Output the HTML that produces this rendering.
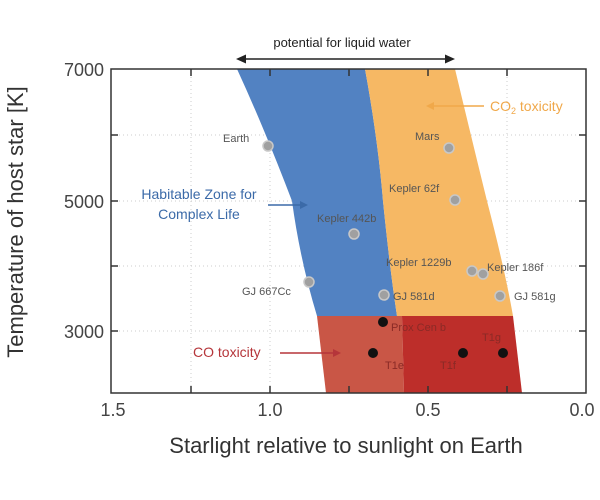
<!DOCTYPE html>
<html><head><style>body{margin:0;background:#fff}svg{display:block}</style></head><body>
<svg width="600" height="500" viewBox="0 0 600 500" font-family="Liberation Sans, sans-serif">
<g stroke="#ccc" stroke-dasharray="1,3" stroke-width="1">
<line x1="111" y1="135" x2="586" y2="135"/><line x1="111" y1="201" x2="586" y2="201"/><line x1="111" y1="266" x2="586" y2="266"/><line x1="111" y1="331" x2="586" y2="331"/>
<line x1="270" y1="69" x2="270" y2="393"/><line x1="349" y1="69" x2="349" y2="393"/><line x1="428" y1="69" x2="428" y2="393"/><line x1="507" y1="69" x2="507" y2="393"/><line x1="191" y1="69" x2="191" y2="393"/>
</g>
<path d="M237,69 L365,69 Q378,140 383,201 Q390,270 397,316 L317,316 Q300,260 292,201 Q265,130 237,69 z" fill="#5282c2"/>
<path d="M365,69 L455,69 Q472,140 487,201 Q505,270 513,316 L397,316 Q390,270 383,201 Q378,140 365,69 z" fill="#f6b864"/>
<path d="M317,316 L402,316 L404,393 L326,393 z" fill="#c95646"/>
<path d="M402,316 L513,316 L522,393 L404,393 z" fill="#bd2e2a"/>
<rect x="111" y="69" width="475" height="324" fill="none" stroke="#333" stroke-width="1.5"/>
<g stroke="#333" stroke-width="1.5">
<line x1="111" y1="135" x2="118" y2="135"/><line x1="111" y1="201" x2="118" y2="201"/><line x1="111" y1="266" x2="118" y2="266"/><line x1="111" y1="331" x2="118" y2="331"/>
<line x1="586" y1="135" x2="579" y2="135"/><line x1="586" y1="201" x2="579" y2="201"/><line x1="586" y1="266" x2="579" y2="266"/><line x1="586" y1="331" x2="579" y2="331"/>
<line x1="191" y1="393" x2="191" y2="386"/><line x1="270" y1="393" x2="270" y2="386"/><line x1="349" y1="393" x2="349" y2="386"/><line x1="428" y1="393" x2="428" y2="386"/><line x1="507" y1="393" x2="507" y2="386"/>
<line x1="191" y1="69" x2="191" y2="76"/><line x1="270" y1="69" x2="270" y2="76"/><line x1="349" y1="69" x2="349" y2="76"/><line x1="428" y1="69" x2="428" y2="76"/><line x1="507" y1="69" x2="507" y2="76"/>
</g>
<g font-size="18" fill="#444" text-anchor="end">
<text x="104" y="76">7000</text><text x="104" y="208">5000</text><text x="104" y="338">3000</text>
</g>
<g font-size="18" fill="#444" text-anchor="middle">
<text x="113" y="416">1.5</text><text x="270" y="416">1.0</text><text x="428" y="416">0.5</text><text x="582" y="416">0.0</text>
</g>
<text x="346" y="453" font-size="22" fill="#333" text-anchor="middle">Starlight relative to sunlight on Earth</text>
<text transform="translate(23,222) rotate(-90)" font-size="22" fill="#333" text-anchor="middle">Temperature of host star [K]</text>
<text x="342" y="47" font-size="13" fill="#222" text-anchor="middle">potential for liquid water</text>
<line x1="242" y1="59" x2="449" y2="59" stroke="#222" stroke-width="1.5"/>
<path d="M236,59 l10,-4.5 v9 z M455,59 l-10,-4.5 v9 z" fill="#222"/>
<g font-size="14" fill="#3b6aa8" text-anchor="middle"><text x="199" y="199">Habitable Zone for</text><text x="199" y="219">Complex Life</text></g>
<line x1="268" y1="205" x2="302" y2="205" stroke="#3b6aa8" stroke-width="1.5"/><path d="M308,205 l-8,-4 v8 z" fill="#3b6aa8"/>
<text x="490" y="111" font-size="14" fill="#f0a84a">CO<tspan font-size="9" dy="3">2</tspan><tspan dy="-3"> toxicity</tspan></text>
<line x1="484" y1="106" x2="432" y2="106" stroke="#f0a84a" stroke-width="1.5"/><path d="M426,106 l8,-4 v8 z" fill="#f0a84a"/>
<text x="193" y="357" font-size="14" fill="#b5353a">CO toxicity</text>
<line x1="280" y1="353" x2="334" y2="353" stroke="#b5353a" stroke-width="1.5"/><path d="M341,353 l-8,-4 v8 z" fill="#b5353a"/>
<g fill="#a0a0a0" stroke="#c8c8c8" stroke-width="1.5">
<circle cx="268" cy="146" r="5"/><circle cx="449" cy="148" r="5"/><circle cx="455" cy="200" r="5"/><circle cx="354" cy="234" r="5"/><circle cx="472" cy="271" r="5"/><circle cx="483" cy="274" r="5"/><circle cx="309" cy="282" r="5"/><circle cx="384" cy="295" r="5"/><circle cx="500" cy="296" r="5"/>
</g>
<g fill="#111"><circle cx="383" cy="322" r="5"/><circle cx="373" cy="353" r="5"/><circle cx="463" cy="353" r="5"/><circle cx="503" cy="353" r="5"/></g>
<g font-size="11" fill="#555">
<text x="223" y="142">Earth</text><text x="415" y="140">Mars</text><text x="389" y="192">Kepler 62f</text><text x="317" y="222">Kepler 442b</text>
<text x="386" y="266">Kepler 1229b</text><text x="487" y="271">Kepler 186f</text><text x="242" y="295">GJ 667Cc</text><text x="393" y="300">GJ 581d</text><text x="514" y="300">GJ 581g</text>
</g>
<g font-size="11" fill="#8a2a26">
<text x="391" y="331">Prox Cen b</text><text x="385" y="369">T1e</text><text x="440" y="369">T1f</text><text x="482" y="341">T1g</text>
</g>
</svg>
</body></html>
